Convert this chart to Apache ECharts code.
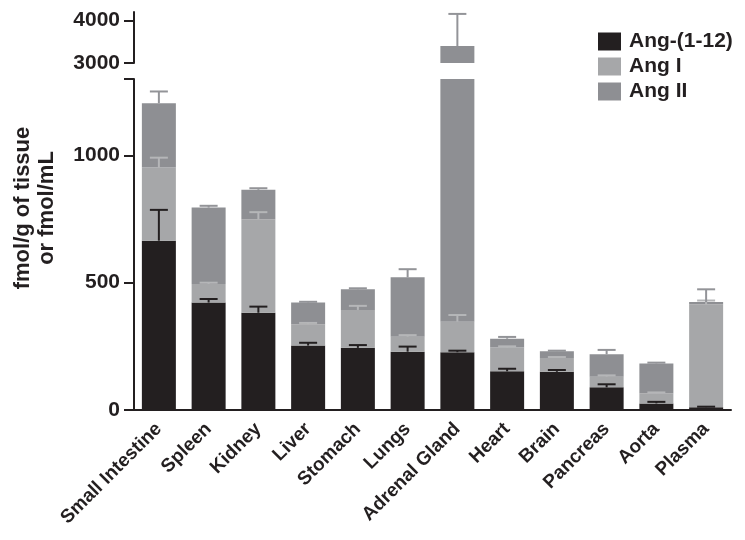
<!DOCTYPE html>
<html>
<head>
<meta charset="utf-8">
<script src="https://cdn.jsdelivr.net/npm/echarts@6/dist/echarts.min.js"></script>
<style>
  html, body { margin: 0; padding: 0; background: #fff; }
  #chart { width: 745px; height: 540px; }
</style>
</head>
<body>
<div id="chart"></div>
<script>
// tissues
const categories = ['Small Intestine', 'Spleen', 'Kidney', 'Liver', 'Stomach', 'Lungs',
  'Adrenal Gland', 'Heart', 'Brain', 'Pancreas', 'Aorta', 'Plasma'];

// stacked segments (fmol/g or fmol/mL)
const ang112 = [665, 422, 382, 253, 244, 229, 227, 152, 150, 89, 26, 11];
const angI   = [287, 73, 367, 84, 149, 59, 120, 93, 54, 42, 40, 404];
const angII  = [253, 300, 116, 85, 81, 233, 3053, 35, 27, 88, 117, 9];

// SEM (upper whiskers)
const ang112Err = [121, 14, 24, 11, 11, 20, 6, 10, 7, 12, 6, 2];
const angIErr   = [39, 5, 28, 5, 16, 6, 26, 5, 4, 5, 3, 15];
const angIIErr  = [46, 7, 6, 3, 4, 32, 755, 7, 2, 17, 3, 50];

// broken y axis
const lowTicks = [0, 500, 1000];
const highTicks = [3000, 4000];

const INK = '#231f20';
const COL = { a12: '#231f20', a1: '#a6a7a9', a2: '#8e8f93' };
const FONT = 'Liberation Sans, Arial, sans-serif';

// running tops of each stack layer
const top1 = ang112.slice();
const top2 = ang112.map((v, i) => v + angI[i]);
const top3 = top2.map((v, i) => v + angII[i]);

function errorBars(color, tops, errs, gi) {
  return {
    type: 'custom',
    xAxisIndex: gi,
    yAxisIndex: gi,
    clip: true,
    z: 5,
    silent: true,
    encode: { x: 0, y: [1, 2] },
    data: tops.map((t, i) => [i, t, t + errs[i]]),
    renderItem: function (params, api) {
      const x = api.value(0);
      const lo = api.coord([x, api.value(1)]);
      const hi = api.coord([x, api.value(2)]);
      const half = 9;
      return {
        type: 'group',
        children: [
          { type: 'line', shape: { x1: lo[0], y1: lo[1], x2: hi[0], y2: hi[1] },
            style: { stroke: color, lineWidth: 2 } },
          { type: 'line', shape: { x1: hi[0] - half, y1: hi[1], x2: hi[0] + half, y2: hi[1] },
            style: { stroke: color, lineWidth: 2 } }
        ]
      };
    }
  };
}

function bars(gi) {
  const base = { type: 'bar', stack: 'g' + gi, xAxisIndex: gi, yAxisIndex: gi, barWidth: 34 };
  return [
    Object.assign({ name: 'Ang-(1-12)', data: ang112, itemStyle: { color: COL.a12 } }, base),
    Object.assign({ name: 'Ang I', data: angI, itemStyle: { color: COL.a1 } }, base),
    Object.assign({ name: 'Ang II', data: angII, itemStyle: { color: COL.a2 } }, base)
  ];
}

function yAxis(gi, min, max, ticks, labels) {
  return {
    type: 'value',
    gridIndex: gi,
    min: min,
    max: max,
    interval: 500,
    axisLine: { show: true, lineStyle: { color: INK, width: 2 } },
    axisTick: { show: true, length: 10, customValues: ticks, lineStyle: { color: INK, width: 2 } },
    axisLabel: { customValues: labels, margin: 14, fontSize: 21, fontWeight: 'bold',
      color: INK, fontFamily: FONT, formatter: v => String(v) },
    splitLine: { show: false }
  };
}

const chart = echarts.init(document.getElementById('chart'));

const option = {
  animation: false,
  backgroundColor: '#fff',
  grid: [
    { left: 134, right: 14, top: 79, bottom: 130, outerBoundsMode: 'none', containLabel: false },
    { left: 134, right: 14, top: 12, height: 51, outerBoundsMode: 'none', containLabel: false }
  ],
  legend: {
    data: ['Ang-(1-12)', 'Ang I', 'Ang II'],
    orient: 'vertical',
    left: 598,
    top: 31,
    padding: 0,
    itemWidth: 23,
    itemHeight: 18,
    itemGap: 4,
    icon: 'rect',
    textStyle: { fontSize: 21, fontWeight: 'bold', color: INK, fontFamily: FONT, padding: [0, 0, 0, 3] }
  },
  xAxis: [
    {
      type: 'category',
      gridIndex: 0,
      data: categories,
      axisLine: { lineStyle: { color: INK, width: 2 } },
      axisTick: { alignWithLabel: true, length: 7, lineStyle: { color: INK, width: 2 } },
      axisLabel: { interval: 0, rotate: 45, margin: 16, fontSize: 19, fontWeight: 'bold',
        color: INK, fontFamily: FONT }
    },
    { type: 'category', gridIndex: 1, data: categories, show: false }
  ],
  yAxis: [
    yAxis(0, 0, 1300, [0, 500, 1000, 1300], lowTicks),
    Object.assign(yAxis(1, 3000, 4200, highTicks, highTicks), { interval: 1000 })
  ],
  graphic: [
    {
      type: 'text',
      x: 35,
      y: 208,
      rotation: Math.PI / 2,
      style: {
        text: 'fmol/g of tissue\nor fmol/mL',
        font: 'bold 22px ' + FONT,
        fill: INK,
        align: 'center',
        verticalAlign: 'middle',
        lineHeight: 24
      }
    }
  ],
  series: [].concat(
    bars(0),
    bars(1),
    [
      errorBars(INK, top1, ang112Err, 0),
      errorBars('#b5b6b8', top2, angIErr, 0),
      errorBars('#939498', top3, angIIErr, 0),
      errorBars('#939498', top3, angIIErr, 1)
    ]
  )
};

chart.setOption(option);
</script>
</body>
</html>
